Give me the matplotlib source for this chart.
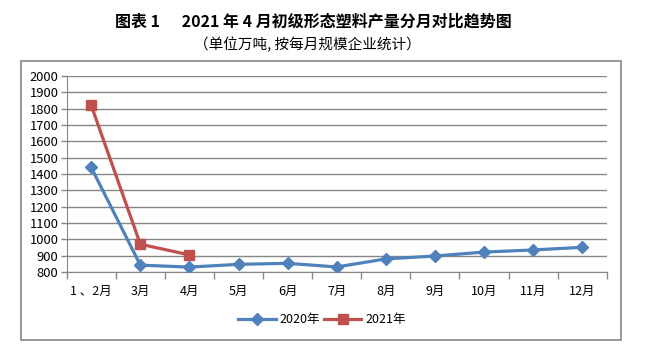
import matplotlib.pyplot as plt
from matplotlib.patches import Rectangle
from matplotlib.lines import Line2D

plt.rcParams['font.family'] = ['Noto Sans CJK SC', 'DejaVu Sans']

# ----------------------------------
# данные
# ----------------------------------
months = ["1 、2月", "3月", "4月", "5月", "6月", "7月", "8月", "9月", "10月", "11月", "12月"]
vals_2020 = [1440, 842, 830, 847, 853, 831, 880, 898, 922, 935, 951]
vals_2021 = [1820, 970, 905]
y_ticks = list(range(800, 2001, 100))

blue = "#4F81BD"
red = "#C0504D"

fig = plt.figure(figsize=(6.45, 3.59), dpi=100)
W, H = 645, 359
# область графика в пикселях: x 66.7..606.7, y 76..272
ax = fig.add_axes([66.7 / W, 1 - 272 / H, (606.7 - 66.7) / W, (272 - 76) / H])

x = list(range(len(months)))
ax.plot(x, vals_2020, color=blue, lw=2.3, marker="D", ms=6, label="2020年", zorder=3)
ax.plot(x[:len(vals_2021)], vals_2021, color=red, lw=2.3, marker="s", ms=7, label="2021年", zorder=4)

ax.set_xlim(-0.5, len(months) - 0.5)
ax.set_ylim(800, 2000)
ax.set_yticks(y_ticks)
ax.set_yticklabels([str(v) for v in y_ticks], fontsize=9.3)
ax.yaxis.grid(True, color="#868686", lw=1)
ax.set_axisbelow(True)

# подписи категорий по центру, засечки на границах
ax.set_xticks(x)
ax.set_xticklabels(months, fontsize=9)
ax.tick_params(axis="x", which="major", length=0, pad=9)
ax.set_xticks([i - 0.5 for i in range(len(months) + 1)], minor=True)
ax.tick_params(axis="x", which="minor", length=5, color="#868686", width=1)
ax.tick_params(axis="y", length=4, color="#868686", width=1, pad=2)

for s in ["top", "right"]:
    ax.spines[s].set_visible(False)
ax.spines["left"].set_color("#868686")
ax.spines["bottom"].set_color("#868686")

handles = [Line2D([], [], color=blue, lw=2.3, marker="D", ms=6),
           Line2D([], [], color=red, lw=2.3, marker="s", ms=7)]
fig.legend(handles, ["2020年", "2021年"], loc="center", bbox_to_anchor=(322 / W, 1 - 320 / H),
           ncol=2, frameon=False, fontsize=9, handlelength=3, columnspacing=0.3, handletextpad=0.3)

# рамка диаграммы
fig.patches.append(Rectangle((20.7 / W, 1 - 340.3 / H), (621.3 - 20.7) / W, (340.3 - 61) / H,
                             transform=fig.transFigure, fill=False, edgecolor="#868686", lw=1.2))

fig.text(313 / W, 1 - 22 / H, "图表 1      2021 年 4 月初级形态塑料产量分月对比趋势图",
         ha="center", va="center", fontsize=11.5, fontweight="bold")
fig.text(307 / W, 1 - 45 / H, "（单位万吨, 按每月规模企业统计）", ha="center", va="center", fontsize=10.5)

fig.savefig("out.png", dpi=100)
